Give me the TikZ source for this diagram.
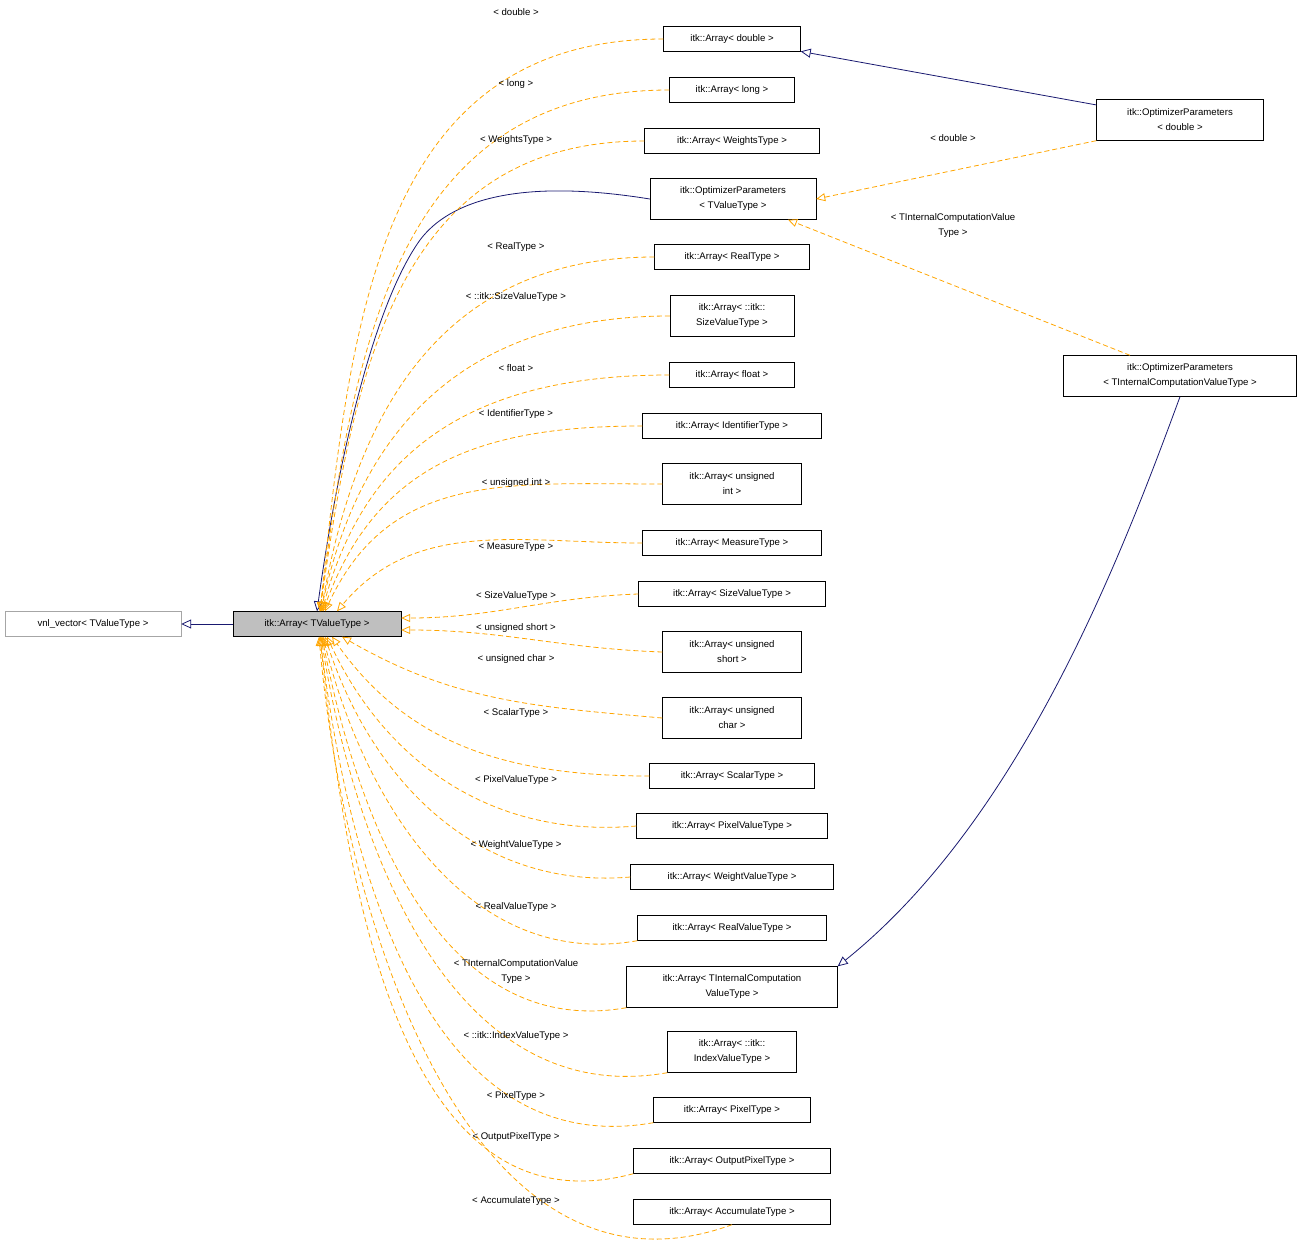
\documentclass[tikz,border=0pt]{standalone}
\usepackage{fontspec}
\setmainfont{Liberation Sans}
\usetikzlibrary{arrows.meta}
\definecolor{edgeorange}{HTML}{FFA500}
\definecolor{edgenavy}{HTML}{191970}
\tikzset{
  cls/.style={draw=black, fill=white, inner sep=2pt, minimum height=25pt, align=center, font=\fontsize{9.6}{15}\selectfont},
  tmpl/.style={->, >={Triangle[open, length=9pt, width=8pt]}, draw=edgeorange, dashed, dash pattern=on 5pt off 3pt, thick=0.8pt, line width=0.8pt},
  inh/.style={draw=edgenavy, line width=0.8pt, -{Triangle[open, length=10pt, width=9pt]}},
  lbl/.style={inner sep=0pt, align=center, font=\fontsize{9.6}{15}\selectfont}
}
\begin{document}
\begin{tikzpicture}[x=1pt, y=-1pt]
\useasboundingbox (0,0) rectangle (1304,1255);
\node[cls, draw=gray!70, minimum width=176pt] (vnl) at (93,624) {vnl\_vector< TValueType >};
\node[cls, fill=gray!50, minimum width=168pt] (main) at (317,624) {itk::Array< TValueType >};

\node[cls, minimum width=137pt] (adouble) at (732,39) {itk::Array< double >};
\node[cls, minimum width=125pt] (along) at (732,90) {itk::Array< long >};
\node[cls, minimum width=175pt] (aweights) at (732,141) {itk::Array< WeightsType >};
\node[cls, minimum width=166pt, minimum height=41pt] (optv) at (733,199) {itk::OptimizerParameters\\< TValueType >};
\node[cls, minimum width=155pt] (areal) at (732,257) {itk::Array< RealType >};
\node[cls, minimum width=124pt, minimum height=41pt] (aitksize) at (732,316) {itk::Array< ::itk::\\SizeValueType >};
\node[cls, minimum width=125pt] (afloat) at (732,375) {itk::Array< float >};
\node[cls, minimum width=179pt] (aident) at (732,426) {itk::Array< IdentifierType >};
\node[cls, minimum width=139pt, minimum height=41pt] (auint) at (732,484) {itk::Array< unsigned\\ int >};
\node[cls, minimum width=179pt] (ameasure) at (732,543) {itk::Array< MeasureType >};
\node[cls, minimum width=187pt] (asize) at (732,594) {itk::Array< SizeValueType >};
\node[cls, minimum width=139pt, minimum height=41pt] (aushort) at (732,652) {itk::Array< unsigned\\ short >};
\node[cls, minimum width=139pt, minimum height=41pt] (auchar) at (732,718) {itk::Array< unsigned\\ char >};
\node[cls, minimum width=165pt] (ascalar) at (732,776) {itk::Array< ScalarType >};
\node[cls, minimum width=191pt] (apixval) at (732,826) {itk::Array< PixelValueType >};
\node[cls, minimum width=203pt] (aweightval) at (732,877) {itk::Array< WeightValueType >};
\node[cls, minimum width=189pt] (arealval) at (732,928) {itk::Array< RealValueType >};
\node[cls, minimum width=211pt, minimum height=41pt] (aintern) at (732,987) {itk::Array< TInternalComputation\\ValueType >};
\node[cls, minimum width=129pt, minimum height=41pt] (aitkindex) at (732,1052) {itk::Array< ::itk::\\IndexValueType >};
\node[cls, minimum width=157pt] (apixel) at (732,1110) {itk::Array< PixelType >};
\node[cls, minimum width=197pt] (aoutpix) at (732,1161) {itk::Array< OutputPixelType >};
\node[cls, minimum width=197pt] (aaccum) at (732,1212) {itk::Array< AccumulateType >};

\node[cls, minimum width=167pt, minimum height=41pt] (optd) at (1180,120) {itk::OptimizerParameters\\< double >};
\node[cls, minimum width=233pt, minimum height=41pt] (opti) at (1180,376) {itk::OptimizerParameters\\< TInternalComputationValueType >};

% inheritance
\draw[inh] (main) -- (vnl);
\draw[inh] (optv.west) .. controls (520,178) and (450,200) .. (420,240) .. controls (370,310) and (335,480) .. (main.north);
\draw[inh] (optd) -- (adouble);
\draw[inh] (opti.south) .. controls (1120,560) and (1020,820) .. (aintern.north east);

% template instances, upper
\draw[tmpl] (adouble.west) to[out=180, in=84, looseness=1.1] ([xshift=3pt]main.north);
\draw[tmpl] (along.west) to[out=180, in=83, looseness=1.1] ([xshift=3pt]main.north);
\draw[tmpl] (aweights.west) to[out=180, in=82, looseness=1.1] ([xshift=3pt]main.north);
\draw[tmpl] (areal.west) to[out=180, in=80, looseness=1.1] ([xshift=4pt]main.north);
\draw[tmpl] (aitksize.west) to[out=180, in=78, looseness=1.1] ([xshift=4pt]main.north);
\draw[tmpl] (afloat.west) to[out=180, in=75, looseness=1.1] ([xshift=5pt]main.north);
\draw[tmpl] (aident.west) to[out=180, in=70, looseness=1.1] ([xshift=6pt]main.north);
\draw[tmpl] (auint.west) to[out=180, in=65, looseness=1.1] ([xshift=8pt]main.north);
\draw[tmpl] (ameasure.west) to[out=180, in=50, looseness=1.0] ([xshift=20pt]main.north);
\draw[tmpl] (asize.west) to[out=182, in=0] ([yshift=6pt]main.east);
\draw[tmpl] (aushort.west) to[out=178, in=0] ([yshift=-6pt]main.east);
% template instances, lower
\draw[tmpl] (auchar.west) to[out=175, in=-30, looseness=1.0] ([xshift=25pt]main.south);
\draw[tmpl] (ascalar.west) to[out=180, in=-55, looseness=1.0] ([xshift=15pt]main.south);
\draw[tmpl] (apixval.west) to[out=185, in=-65, looseness=1.0] ([xshift=10pt]main.south);
\draw[tmpl] (aweightval.west) to[out=185, in=-72, looseness=1.0] ([xshift=8pt]main.south);
\draw[tmpl] (arealval.south west) to[out=190, in=-76, looseness=1.0] ([xshift=6pt]main.south);
\draw[tmpl] (aintern.south west) to[out=190, in=-79, looseness=1.0] ([xshift=5pt]main.south);
\draw[tmpl] (aitkindex.south west) to[out=190, in=-81, looseness=1.0] ([xshift=4pt]main.south);
\draw[tmpl] (apixel.south west) to[out=190, in=-83, looseness=1.0] ([xshift=3pt]main.south);
\draw[tmpl] (aoutpix.south west) to[out=195, in=-84, looseness=1.0] ([xshift=3pt]main.south);
\draw[tmpl] (aaccum.south) to[out=200, in=-85, looseness=1.0] ([xshift=2pt]main.south);

% template between parameters
\draw[tmpl] (optd.south west) -- (optv.east);
\draw[tmpl] ([xshift=-50pt]opti.north) -- ([xshift=55pt]optv.south);

% labels
\node[lbl] (ldouble) at (516,12) {< double >};
\node[lbl] (llong) at (516,84) {< long >};
\node[lbl] (lweights) at (516,140) {< WeightsType >};
\node[lbl] (lreal) at (516,247) {< RealType >};
\node[lbl] (litksize) at (516,297) {< ::itk::SizeValueType >};
\node[lbl] (lfloat) at (516,368) {< float >};
\node[lbl] (lident) at (516,414) {< IdentifierType >};
\node[lbl] (luint) at (516,483) {< unsigned int >};
\node[lbl] (lmeasure) at (516,547) {< MeasureType >};
\node[lbl] (lsize) at (516,596) {< SizeValueType >};
\node[lbl] (lushort) at (516,628) {< unsigned short >};
\node[lbl] (luchar) at (516,659) {< unsigned char >};
\node[lbl] (lscalar) at (516,713) {< ScalarType >};
\node[lbl] (lpixval) at (516,780) {< PixelValueType >};
\node[lbl] (lweightval) at (516,845) {< WeightValueType >};
\node[lbl] (lrealval) at (516,907) {< RealValueType >};
\node[lbl] (lintern) at (516,972) {< TInternalComputationValue\\Type >};
\node[lbl] (litkindex) at (516,1036) {< ::itk::IndexValueType >};
\node[lbl] (lpixel) at (516,1096) {< PixelType >};
\node[lbl] (loutpix) at (516,1137) {< OutputPixelType >};
\node[lbl] (laccum) at (516,1201) {< AccumulateType >};
\node[lbl] (ldouble2) at (953,138) {< double >};
\node[lbl] (linternal2) at (953,226) {< TInternalComputationValue\\Type >};
\end{tikzpicture}
\end{document}
